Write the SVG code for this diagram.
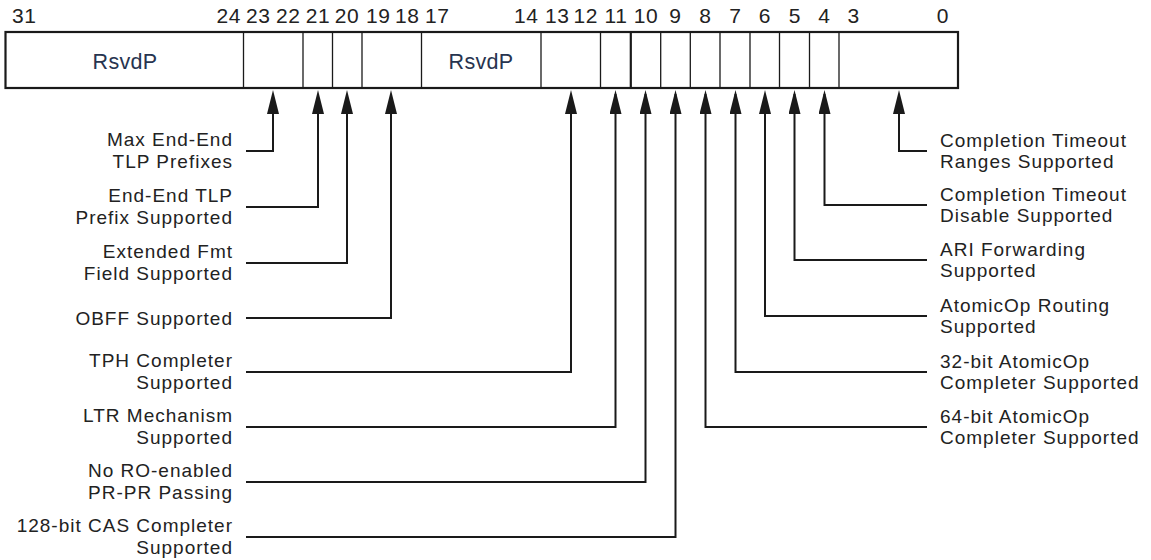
<svg xmlns="http://www.w3.org/2000/svg" width="1151" height="560" viewBox="0 0 1151 560">
<style>
text{font-family:"Liberation Sans",Arial,sans-serif;font-size:19px;fill:#222;letter-spacing:1px}
.bit{font-size:21px;letter-spacing:0.6px}
.rsv{fill:#27344f;text-anchor:middle;font-size:21.5px;letter-spacing:0.3px}
.l{text-anchor:end}
.c{text-anchor:middle}
.box{fill:#fff;stroke:#1a1a1a;stroke-width:2.2}
.div{stroke:#1a1a1a;stroke-width:1.3}
.thick{stroke-width:2.2}
.conn{fill:none;stroke:#1a1a1a;stroke-width:2;marker-end:url(#ah)}
</style>
<defs>
<marker id="ah" viewBox="0 0 24 12" refX="20" refY="6" markerWidth="24" markerHeight="12" markerUnits="userSpaceOnUse" orient="auto">
<path d="M0,0 L24,6 L0,12 Z" fill="#1a1a1a"/>
</marker>
</defs>
<rect width="1151" height="560" fill="#fff"/>
<g id="bit-numbers">
<text class="bit" x="12" y="22.5">31</text>
<text class="bit l" x="241" y="22.5">24</text>
<text class="bit" x="246" y="22.5">23</text>
<text class="bit l" x="300.5" y="22.5">22</text>
<text class="bit c" x="318" y="22.5">21</text>
<text class="bit c" x="347" y="22.5">20</text>
<text class="bit" x="366" y="22.5">19</text>
<text class="bit l" x="419.5" y="22.5">18</text>
<text class="bit" x="425" y="22.5">17</text>
<text class="bit l" x="538.5" y="22.5">14</text>
<text class="bit" x="545" y="22.5">13</text>
<text class="bit l" x="598" y="22.5">12</text>
<text class="bit c" x="616" y="22.5">11</text>
<text class="bit c" x="646" y="22.5">10</text>
<text class="bit c" x="675.5" y="22.5">9</text>
<text class="bit c" x="705.5" y="22.5">8</text>
<text class="bit c" x="735.5" y="22.5">7</text>
<text class="bit c" x="765" y="22.5">6</text>
<text class="bit c" x="795" y="22.5">5</text>
<text class="bit c" x="824.5" y="22.5">4</text>
<text class="bit" x="847.5" y="22.5">3</text>
<text class="bit l" x="949" y="22.5">0</text>
</g>
<g id="register">
<rect class="box" x="5.5" y="32" width="952.5" height="56"/>
<line class="div" x1="243.5" y1="32" x2="243.5" y2="88"/>
<line class="div" x1="303" y1="32" x2="303" y2="88"/>
<line class="div" x1="332.5" y1="32" x2="332.5" y2="88"/>
<line class="div" x1="362" y1="32" x2="362" y2="88"/>
<line class="div" x1="421.5" y1="32" x2="421.5" y2="88"/>
<line class="div" x1="541" y1="32" x2="541" y2="88"/>
<line class="div" x1="600.5" y1="32" x2="600.5" y2="88"/>
<line class="div thick" x1="630.8" y1="32" x2="630.8" y2="88"/>
<line class="div" x1="660.7" y1="32" x2="660.7" y2="88"/>
<line class="div" x1="690.3" y1="32" x2="690.3" y2="88"/>
<line class="div" x1="720" y1="32" x2="720" y2="88"/>
<line class="div" x1="750" y1="32" x2="750" y2="88"/>
<line class="div" x1="779.5" y1="32" x2="779.5" y2="88"/>
<line class="div" x1="809.5" y1="32" x2="809.5" y2="88"/>
<line class="div" x1="839" y1="32" x2="839" y2="88"/>
<text class="rsv" x="125" y="68.5">RsvdP</text>
<text class="rsv" x="481" y="68.5">RsvdP</text>
</g>
<g id="connectors">
<path class="conn" d="M246,151 H273 V94"/>
<path class="conn" d="M246,207 H318 V94"/>
<path class="conn" d="M246,263 H347 V94"/>
<path class="conn" d="M246,318 H391 V94"/>
<path class="conn" d="M246,372 H571 V94"/>
<path class="conn" d="M246,427 H615.5 V94"/>
<path class="conn" d="M246,482 H645.5 V94"/>
<path class="conn" d="M246,537 H675.5 V94"/>
<path class="conn" d="M927,151 H899 V94"/>
<path class="conn" d="M927,205 H824.5 V94"/>
<path class="conn" d="M927,260 H794.5 V94"/>
<path class="conn" d="M927,316 H765 V94"/>
<path class="conn" d="M927,372 H735.5 V94"/>
<path class="conn" d="M927,427 H705.5 V94"/>
</g>
<g id="label-max-end-end"><text class="l" x="233" y="146">Max End-End<tspan x="233" dy="21.5">TLP Prefixes</tspan></text></g>
<g id="label-end-end-tlp"><text class="l" x="233" y="202">End-End TLP<tspan x="233" dy="21.5">Prefix Supported</tspan></text></g>
<g id="label-extended-fmt"><text class="l" x="233" y="258">Extended Fmt<tspan x="233" dy="21.5">Field Supported</tspan></text></g>
<g id="label-obff"><text class="l" x="233" y="325">OBFF Supported</text></g>
<g id="label-tph"><text class="l" x="233" y="367">TPH Completer<tspan x="233" dy="21.5">Supported</tspan></text></g>
<g id="label-ltr"><text class="l" x="233" y="422">LTR Mechanism<tspan x="233" dy="21.5">Supported</tspan></text></g>
<g id="label-no-ro"><text class="l" x="233" y="477">No RO-enabled<tspan x="233" dy="21.5">PR-PR Passing</tspan></text></g>
<g id="label-128cas"><text class="l" x="233" y="532">128-bit CAS Completer<tspan x="233" dy="21.5">Supported</tspan></text></g>
<g id="label-ct-ranges"><text x="940" y="146.5">Completion Timeout<tspan x="940" dy="21.5">Ranges Supported</tspan></text></g>
<g id="label-ct-disable"><text x="940" y="200.5">Completion Timeout<tspan x="940" dy="21.5">Disable Supported</tspan></text></g>
<g id="label-ari"><text x="940" y="255.5">ARI Forwarding<tspan x="940" dy="21.5">Supported</tspan></text></g>
<g id="label-atomic-routing"><text x="940" y="311.5">AtomicOp Routing<tspan x="940" dy="21.5">Supported</tspan></text></g>
<g id="label-32bit"><text x="940" y="367.5">32-bit AtomicOp<tspan x="940" dy="21.5">Completer Supported</tspan></text></g>
<g id="label-64bit"><text x="940" y="422.5">64-bit AtomicOp<tspan x="940" dy="21.5">Completer Supported</tspan></text></g>
</svg>
